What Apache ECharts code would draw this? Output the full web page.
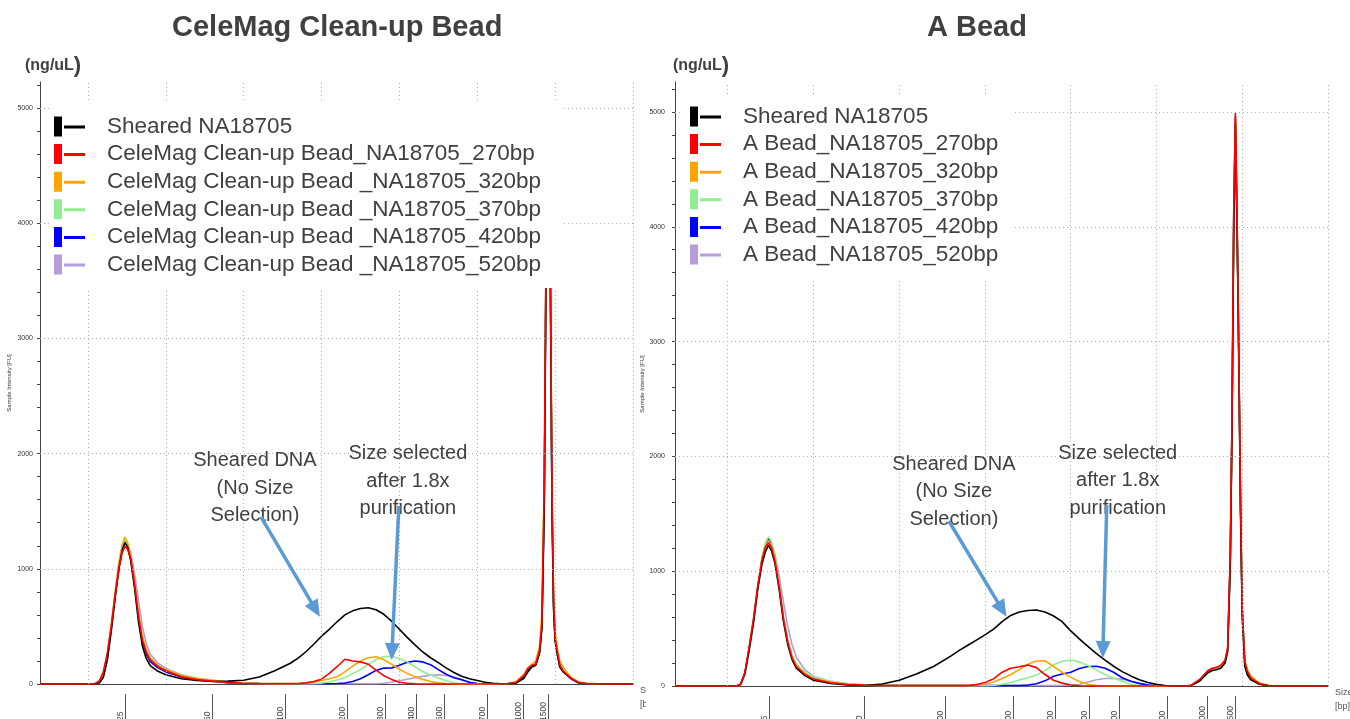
<!DOCTYPE html>
<html><head><meta charset="utf-8">
<script src="https://cdn.jsdelivr.net/npm/echarts@6/dist/echarts.min.js"></script>
<style>html,body{margin:0;padding:0;background:#fff;overflow:hidden}#c{width:1350px;height:719px}</style>
</head><body><div id="c"></div>
<script>
// migration time (arbitrary units) at which every trace is sampled
const T = [43.85,46,48,50,51,51.5,52,52.5,53,53.5,54,54.4,54.75,55.1,55.5,56,56.5,57,57.5,58,59,60,
  62,64,66,68,70,72,74,76,
  77,78,79,80,81,82,83,84,85,86,87,88,89,90,91,92,93,94,95,96,97,98,99,100,101,102,103,
  104,105,106,106.5,107,107.5,108,108.3,108.6,108.8,109,109.2,109.4,109.6,109.8,110,110.3,110.6,111,111.5,112,113,114,116,118,120];

// ladder (bp) positions on the time axis and their labels
const LADDER_T = [54.8, 65.95, 75.35, 83.3, 88.2, 92.2, 95.7, 101.25, 105.9, 109.15];
const LADDER_BP = ['25','50','100','200','300','400','500','700','1000','1500'];
const VGRID = [50,60,70,80,90,100,110,120];
const HGRID = [1000,2000,3000,4000,5000];

const NAMES_L = ['Sheared NA18705','CeleMag Clean-up Bead_NA18705_270bp','CeleMag Clean-up Bead _NA18705_320bp',
  'CeleMag Clean-up Bead _NA18705_370bp','CeleMag Clean-up Bead _NA18705_420bp','CeleMag Clean-up Bead _NA18705_520bp'];
const NAMES_R = ['Sheared NA18705','A Bead_NA18705_270bp','A Bead_NA18705_320bp','A Bead_NA18705_370bp',
  'A Bead_NA18705_420bp','A Bead_NA18705_520bp'];
const COLORS = ['#000000','#ff0000','#ffa500','#90ee90','#0000ff','#b39ddb'];

// ---- CeleMag panel (FU) ----
const L_BLACK = [0,0,0,0,0,10,60,210,460,750,1010,1160,1227,1190,1070,830,540,330,220,160,110,80,
  45,30,22,25,32,60,115,180,
  225,280,345,415,475,540,600,635,655,662,645,605,545,475,405,340,278,228,185,140,100,68,45,30,15,6,2,
  3,8,50,105,148,162,270,480,1500,3300,4700,4850,3400,1500,650,370,250,150,110,80,50,10,2,0,0,0];
const L_RED = [0,0,0,0,5,30,110,270,500,770,1010,1140,1195,1170,1090,865,590,380,275,210,150,115,
  62,38,25,12,6,3,2,2,
  4,10,22,42,92,150,215,200,192,172,120,72,40,15,6,2,0,0,0,0,0,0,0,0,0,0,0,
  5,15,75,135,162,172,290,530,1700,3500,4800,4900,3500,1650,720,400,270,165,115,82,52,12,3,0,0,0];
const L_ORANGE = [0,0,0,0,5,25,100,260,510,800,1060,1210,1275,1230,1110,890,620,410,300,225,160,125,
  75,48,32,18,8,4,3,3,
  4,5,15,30,45,63,105,155,200,228,237,210,172,128,92,64,40,22,10,4,0,0,0,0,0,0,0,
  5,20,85,140,170,200,330,620,1800,3500,4750,4800,3450,1700,780,450,300,200,150,100,60,20,6,0,0,0];
const L_GREEN = [0,0,0,0,4,22,95,250,500,790,1040,1190,1255,1215,1100,885,620,410,300,225,165,125,
  78,50,32,18,8,4,3,3,
  3,3,3,8,18,35,55,90,125,170,210,238,240,220,192,150,108,78,52,28,10,2,0,0,0,0,0,
  5,18,80,135,165,185,300,560,1600,3400,4700,4800,3450,1650,760,440,300,195,148,98,58,18,5,0,0,0];
const L_BLUE = [0,0,0,0,3,20,90,240,490,780,1030,1180,1240,1200,1085,860,580,370,260,195,140,105,
  60,38,24,12,5,3,2,2,
  2,2,2,2,2,4,8,22,45,80,118,138,140,163,188,200,192,168,125,85,55,36,15,4,0,0,0,
  4,12,70,125,155,165,275,500,1550,3350,4750,4850,3400,1550,680,390,255,150,108,78,48,10,2,0,0,0];
const L_PURPLE = [0,0,0,0,3,18,80,220,460,750,1000,1160,1230,1215,1140,960,720,500,350,260,180,135,
  80,50,32,18,8,4,3,3,
  2,2,2,2,2,2,2,2,2,2,2,6,15,28,42,55,66,76,80,74,60,38,14,3,0,0,0,
  4,14,72,128,158,170,285,510,1600,3400,4750,4850,3450,1620,720,410,275,170,120,85,52,12,3,0,0,0];

// ---- A Bead panel (FU) ----
const R_BLACK = [0,0,0,0,0,15,110,320,555,850,1065,1170,1225,1180,1070,840,560,360,230,155,90,50,
  22,9,4,18,50,105,170,260,
  310,355,400,445,495,560,615,645,658,662,645,610,560,480,410,345,282,225,172,125,88,55,30,14,4,0,0,
  3,40,115,135,142,155,200,300,1050,2200,3900,4900,3950,2800,1500,600,170,95,55,35,15,3,0,0,0,0];
const R_RED = [0,0,0,0,0,15,120,340,580,870,1100,1210,1248,1210,1090,860,580,380,245,170,100,60,
  28,12,6,4,3,3,3,3,
  3,3,12,30,62,120,155,168,182,160,100,50,25,8,2,0,0,0,0,0,0,0,0,0,0,0,0,
  5,55,135,155,162,180,225,330,1150,2300,4100,4990,4050,2900,1600,680,210,125,70,45,20,5,0,0,0,0];
const R_ORANGE = [0,0,0,0,0,14,115,335,575,865,1110,1225,1268,1225,1105,870,590,390,250,175,105,65,
  32,15,7,4,3,3,3,3,
  3,3,5,15,35,65,100,143,190,218,220,170,120,75,40,15,3,0,0,0,0,0,0,0,0,0,0,
  5,50,130,152,160,178,225,330,1100,2250,4000,4950,4000,2900,1600,660,220,140,85,55,25,6,0,0,0,0];
const R_GREEN = [0,0,0,0,0,15,100,320,570,860,1120,1250,1300,1260,1130,880,600,400,270,190,120,80,
  40,20,10,5,3,3,3,3,
  3,3,3,3,5,15,30,52,72,96,135,185,215,226,210,178,138,100,70,42,15,3,0,0,0,0,0,
  5,52,132,152,160,178,222,325,1080,2200,3950,4930,4000,2880,1580,650,220,140,85,52,24,6,0,0,0,0];
const R_BLUE = [0,0,0,0,0,14,105,325,570,860,1110,1230,1280,1240,1110,870,590,390,255,175,105,62,
  30,14,7,4,3,3,3,3,
  3,3,3,3,3,3,3,3,8,20,45,85,105,120,152,170,172,155,120,72,42,23,8,2,0,0,0,
  5,48,128,150,158,175,220,320,1100,2250,4050,4960,4050,2900,1580,640,200,120,68,42,18,4,0,0,0,0];
const R_PURPLE = [0,0,0,0,0,12,95,300,540,830,1080,1200,1240,1225,1150,960,730,520,360,250,140,85,
  40,20,10,5,3,3,3,3,
  3,3,3,3,3,3,3,3,3,3,3,3,5,8,13,35,55,65,66,58,42,20,8,2,0,0,0,
  5,48,128,150,158,175,220,320,1080,2200,3950,4920,4000,2880,1580,660,220,135,80,50,22,5,0,0,0,0];

// annotations in data coordinates [time, FU]
const NOTES_L = [['Sheared DNA\n(No Size\nSelection)', [71.45, 1701]], ['Size selected\nafter 1.8x\npurification', [91.09, 1762]]];
const ARROWS_L = [[[72.22, 1450], [79.79, 584]], [[89.93, 1545], [89.0, 208]]];
const NOTES_R = [['Sheared DNA\n(No Size\nSelection)', [76.37, 1690]], ['Size selected\nafter 1.8x\npurification', [95.48, 1786]]];
const ARROWS_R = [[[75.78, 1437], [82.51, 604]], [[94.2, 1577], [93.73, 244]]];

const XMIN = 43.85, XMAX = 120, YMAX_L = 5226, YMAX_R = 5261;
const FONT = "'Liberation Sans', Arial, sans-serif";
const ICON = 'path://M0,0H8V20H0Z M10,9H31V12H10Z';

const chart = echarts.init(document.getElementById('c'), null, {renderer: 'canvas'});

function mainX(gi) {
  return {type: 'value', gridIndex: gi, min: XMIN, max: XMAX, position: 'bottom',
    axisLine: {show: true, onZero: false, lineStyle: {color: '#444', width: 1}},
    axisTick: {show: false}, axisLabel: {show: false}, splitLine: {show: false},
    name: 'Size\n[bp]', nameLocation: 'end', nameGap: 7,
    nameTextStyle: {fontSize: 9, color: '#555', fontFamily: FONT, align: 'left', verticalAlign: 'top', lineHeight: 14}};
}
function ladderX(gi, margin) {
  return {type: 'value', gridIndex: gi, min: XMIN, max: XMAX, position: 'bottom', offset: 10,
    axisLine: {show: false, onZero: false},
    axisTick: {show: true, customValues: LADDER_T, length: 30, lineStyle: {color: '#555', width: 1}},
    axisLabel: {show: true, customValues: LADDER_T, rotate: 90, margin: margin, align: 'left', verticalAlign: 'bottom',
      fontSize: 8.5, color: '#444', fontFamily: FONT,
      formatter: v => { const i = LADDER_T.findIndex(x => Math.abs(x - v) < 1e-6); return i >= 0 ? LADDER_BP[i] : ''; }},
    splitLine: {show: false}};
}
function mkY(gi, max, gap, margin) {
  return {type: 'value', gridIndex: gi, min: 0, max: max, interval: 200,
    axisLine: {show: true, lineStyle: {color: '#444', width: 1}},
    axisTick: {show: true, length: 3, lineStyle: {color: '#444'}},
    axisLabel: {fontSize: 7, color: '#333', margin: margin, fontFamily: FONT, showMaxLabel: false,
      formatter: v => (v % 1000 === 0 ? String(v) : '')},
    splitLine: {show: false},
    name: 'Sample Intensity [FU]', nameLocation: 'middle', nameGap: gap,
    nameTextStyle: {fontSize: 6, color: '#333', fontFamily: FONT}};
}
function gridSeries(xi, yi) {
  return {type: 'line', xAxisIndex: xi, yAxisIndex: yi, data: [], silent: true, z: 1, animation: false,
    markLine: {silent: true, animation: false, symbol: ['none', 'none'], label: {show: false},
      lineStyle: {type: [1, 3], color: '#b0b0b0', width: 1},
      data: VGRID.map(v => ({xAxis: v})).concat(HGRID.map(v => ({yAxis: v})))}};
}
function mkSeries(name, vals, color, xi, yi, z) {
  return {type: 'line', name: name, xAxisIndex: xi, yAxisIndex: yi, data: T.map((t, i) => [t, vals[i]]),
    showSymbol: false, symbol: 'none', color: color, lineStyle: {width: 1.6, color: color},
    z: z, animation: false, silent: true};
}
const LEFT = [L_BLACK, L_RED, L_ORANGE, L_GREEN, L_BLUE, L_PURPLE];
const RIGHT = [R_BLACK, R_RED, R_ORANGE, R_GREEN, R_BLUE, R_PURPLE];
const DRAW_ORDER = [5, 4, 3, 2, 0, 1];
const series = [gridSeries(0, 0), gridSeries(2, 1)];
DRAW_ORDER.forEach((k, j) => series.push(mkSeries(NAMES_L[k], LEFT[k], COLORS[k], 0, 0, 2 + j * 0.01)));
DRAW_ORDER.forEach((k, j) => series.push(mkSeries(NAMES_R[k], RIGHT[k], COLORS[k], 2, 1, 2 + j * 0.01)));

function legendOf(names, left, top, padding) {
  return {data: names, orient: 'vertical', left: left, top: top, padding: padding, itemGap: 4.6,
    itemWidth: 31, itemHeight: 20, icon: ICON, backgroundColor: '#ffffff', selectedMode: false, z: 10,
    textStyle: {fontSize: 22.5, lineHeight: 22, color: '#404040', fontFamily: FONT, padding: [0, 0, 0, 17]}};
}

chart.setOption({
  animation: false,
  backgroundColor: '#ffffff',
  title: [
    {text: 'CeleMag Clean-up Bead', left: 172, top: 13, padding: 0,
      textStyle: {fontSize: 29, fontWeight: 'bold', color: '#404040', fontFamily: FONT}},
    {text: 'A Bead', left: 927, top: 13, padding: 0,
      textStyle: {fontSize: 29, fontWeight: 'bold', color: '#404040', fontFamily: FONT}}
  ],
  grid: [
    {left: 40, top: 82, width: 593, height: 602, containLabel: false, outerBoundsMode: 'none'},
    {left: 675, top: 82, width: 653, height: 604, containLabel: false, outerBoundsMode: 'none'}
  ],
  xAxis: [mainX(0), ladderX(0, 27), mainX(1), ladderX(1, 29)],
  yAxis: [mkY(0, YMAX_L, 28, 7), mkY(1, YMAX_R, 24, 10)],
  legend: [
    legendOf(NAMES_L, 50, 100, [15, 20, 12, 4]),
    legendOf(NAMES_R, 680, 95, [10, 14, 12, 10])
  ],
  series: series
});

// annotations placed through the axes' own scales
const ARROW_COLOR = '#5b9bd5';
function arrowEls(a, b) {
  const dx = b[0] - a[0], dy = b[1] - a[1], len = Math.hypot(dx, dy);
  const ux = dx / len, uy = dy / len, hl = 17, hw = 7.5;
  const bx = b[0] - ux * hl, by = b[1] - uy * hl;
  return [
    {type: 'line', silent: true, z: 20, shape: {x1: a[0], y1: a[1], x2: bx + ux * 2, y2: by + uy * 2},
      style: {stroke: ARROW_COLOR, lineWidth: 3.5}},
    {type: 'polygon', silent: true, z: 20,
      shape: {points: [[b[0], b[1]], [bx - uy * hw, by + ux * hw], [bx + uy * hw, by - ux * hw]]},
      style: {fill: ARROW_COLOR}}
  ];
}
function noteEl(text, p) {
  return {type: 'text', silent: true, z: 20, x: p[0], y: p[1],
    style: {text: text, fontSize: 20, fontFamily: FONT, fill: '#404040', lineHeight: 27.5,
      align: 'center', verticalAlign: 'middle', textAlign: 'center', textVerticalAlign: 'middle'}};
}
function unitEl(x) {
  return {type: 'text', silent: true, z: 20, x: x, y: 66,
    style: {text: '{a|(ng/uL}{b|)}', fontFamily: FONT, verticalAlign: 'middle', textVerticalAlign: 'middle',
      rich: {a: {fontSize: 16, fontWeight: 'bold', fill: '#404040', fontFamily: FONT},
             b: {fontSize: 22, fontWeight: 'bold', fill: '#404040', fontFamily: FONT}}}};
}
// the left panel is cropped just right of its axis name, as in the source figure
const graphics = [unitEl(25), unitEl(673),
  {type: 'rect', silent: true, z: 30, shape: {x: 646, y: 686, width: 16, height: 33}, style: {fill: '#ffffff'}}];
const finderL = {xAxisIndex: 0, yAxisIndex: 0};
const finderR = {xAxisIndex: 2, yAxisIndex: 1};
NOTES_L.forEach(n => graphics.push(noteEl(n[0], chart.convertToPixel(finderL, n[1]))));
NOTES_R.forEach(n => graphics.push(noteEl(n[0], chart.convertToPixel(finderR, n[1]))));
ARROWS_L.forEach(a => arrowEls(chart.convertToPixel(finderL, a[0]), chart.convertToPixel(finderL, a[1])).forEach(e => graphics.push(e)));
ARROWS_R.forEach(a => arrowEls(chart.convertToPixel(finderR, a[0]), chart.convertToPixel(finderR, a[1])).forEach(e => graphics.push(e)));
chart.setOption({graphic: graphics});
</script>
</body></html>
